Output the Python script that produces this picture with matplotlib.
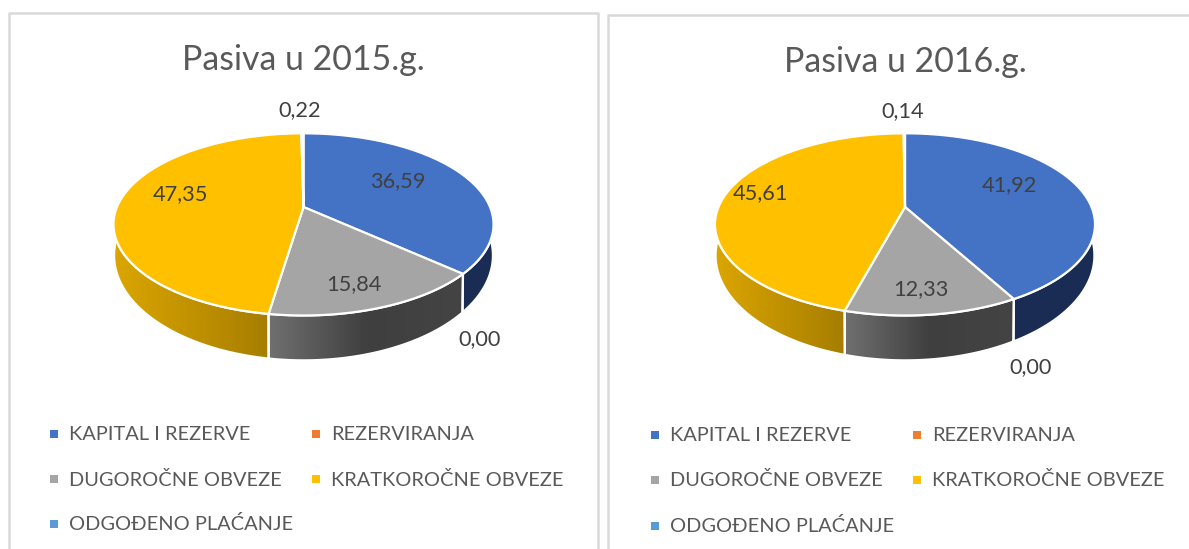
import numpy as np
import matplotlib
matplotlib.use('Agg')
import matplotlib.pyplot as plt
from matplotlib.colors import LinearSegmentedColormap
from matplotlib.patches import Polygon

plt.rcParams['font.family'] = ['Lato', 'DejaVu Sans']

categories = ['KAPITAL I REZERVE', 'REZERVIRANJA', 'DUGOROČNE OBVEZE', 'KRATKOROČNE OBVEZE', 'ODGOĐENO PLAĆANJE']
titles = ['Pasiva u 2015.g.', 'Pasiva u 2016.g.']
values_2015 = [36.59, 0.00, 15.84, 47.35, 0.22]
values_2016 = [41.92, 0.00, 12.33, 45.61, 0.14]

colors = ['#4472C4', '#ED7D31', '#A5A5A5', '#FFC000', '#5B9BD5']
# wall shading, left to right
wall_colors = [
    ['#1A2C54', '#1A2C54'],
    ['#8A4A1C', '#8A4A1C'],
    ['#707070', '#3F3F3F', '#444444'],
    ['#DBA600', '#A67D00'],
    ['#2F5F8C', '#2F5F8C'],
]

# perspective of the disc, from experiments
K = 0.191
A = 186.5
B = 87.75
# bottom disc is a bit more open than the top one
DEPTH = 28.4
BOTTOM_SX = 0.997
BOTTOM_SY = 1.152

fig = plt.figure(figsize=(11.89, 5.49), dpi=100)
ax = fig.add_axes([0, 0, 1, 1])


def project(angle, cx, cy, sx=1.0, sy=1.0, dy=0):
    u = np.sin(angle)
    v = np.cos(angle)
    w = 1 + K * v
    return cx + sx * A * u / w, cy + dy - sy * B * v / w


def draw_pie(values, cx, cy):
    edges = np.concatenate([[0], np.cumsum(values)]) / np.sum(values) * 2 * np.pi
    for i, value in enumerate(values):
        if value == 0:
            continue
        t = np.linspace(edges[i], edges[i + 1], 200)
        x1, y1 = project(t, cx, cy)
        x2, y2 = project(t, cx, cy, BOTTOM_SX, BOTTOM_SY, DEPTH)

        # wall with gradient, the back part is hidden by the top
        wall_xy = np.column_stack([np.r_[x1, x2[::-1]], np.r_[y1, y2[::-1]]])
        clip = Polygon(wall_xy, closed=True, fc='none', ec='white', lw=1.6, zorder=2)
        ax.add_patch(clip)
        front = np.cos(t) < 0.0
        x_lo = wall_xy[:, 0].min()
        x_hi = wall_xy[:, 0].max()
        if front.any():
            x_lo = min(x1[front].min(), x2[front].min())
            x_hi = max(x1[front].max(), x2[front].max())
        cmap = LinearSegmentedColormap.from_list('wall', wall_colors[i])
        im = ax.imshow(np.linspace(0, 1, 256).reshape(1, -1), cmap=cmap, aspect='auto',
                       extent=(x_lo, x_hi, wall_xy[:, 1].max(), wall_xy[:, 1].min()),
                       interpolation='bilinear', zorder=1)
        im.set_clip_path(clip)

    for i, value in enumerate(values):
        if value == 0:
            continue
        t = np.linspace(edges[i], edges[i + 1], 200)
        x1, y1 = project(t, cx, cy)
        ax.fill(np.r_[cx, x1], np.r_[cy, y1], fc=colors[i], ec='white', lw=1.6,
                joinstyle='round', zorder=3)


def draw_legend(x_col1, x_col2, y_rows):
    spots = [(x_col1, y_rows[0]), (x_col2, y_rows[0]), (x_col1, y_rows[1]),
             (x_col2, y_rows[1]), (x_col1, y_rows[2])]
    for i, (x, y) in enumerate(spots):
        ax.scatter([x - 15.5], [y + 0.5], marker='s', s=30, color=colors[i], linewidths=0, zorder=3)
        ax.text(x, y + 1.5, categories[i], fontsize=14.4, color='#595959', va='center', ha='left')


# left panel
draw_pie(values_2015, 303.5, 207)
ax.text(303.5, 60.5, titles[0], fontsize=24.4, color='#595959', ha='center', va='center')
label_pos = [(398, 181), (480, 339.5), (354, 284), (180, 194), (300, 110)]
for v, (x, y) in zip(values_2015, label_pos):
    ax.text(x, y, f'{v:.2f}'.replace('.', ','), fontsize=15.7, color='#404040',
            ha='center', va='center', zorder=4)
draw_legend(69, 331, [433, 478, 523])

# right panel
draw_pie(values_2016, 905, 207)
ax.text(905, 61.5, titles[1], fontsize=24.4, color='#595959', ha='center', va='center')
label_pos = [(1009, 185), (1031, 367.5), (921, 289), (760, 193), (903, 111)]
for v, (x, y) in zip(values_2016, label_pos):
    ax.text(x, y, f'{v:.2f}'.replace('.', ','), fontsize=15.7, color='#404040',
            ha='center', va='center', zorder=4)
draw_legend(670, 932, [434, 479, 525])

# panel frames
ax.plot([9, 9, 598, 598], [549, 13, 13, 549], color='#D9D9D9', lw=1.8, zorder=5, clip_on=False)
ax.plot([608, 608, 1189], [549, 15, 15], color='#D9D9D9', lw=1.8, zorder=5, clip_on=False)

ax.set_xlim(0, 1189)
ax.set_ylim(549, 0)
ax.axis('off')

fig.savefig('out.png', dpi=100)
